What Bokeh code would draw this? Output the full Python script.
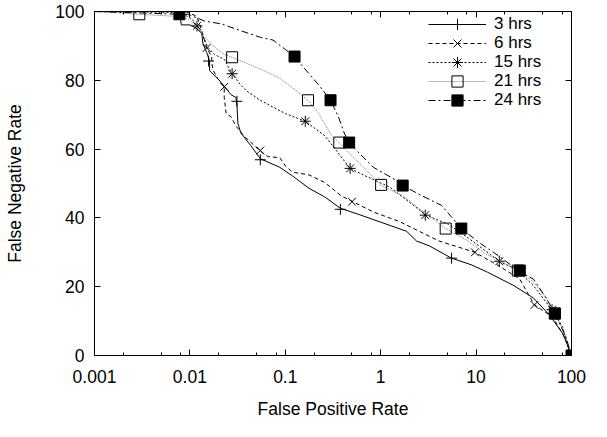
from bokeh.plotting import figure
from bokeh.models import (FixedTicker, LogAxis, LinearAxis, Legend, LegendItem,
                          CustomJSTickFormatter, Range1d)
from bokeh.embed import file_html
from bokeh.resources import INLINE

# ---- axis ticks ----
x_ticks = [0.001, 0.01, 0.1, 1, 10, 100]
x_tick_labels = ["0.001", "0.01", "0.1", "1", "10", "100"]
x_minor_ticks = [0.002, 0.005, 0.008, 0.02, 0.05, 0.08, 0.2, 0.5, 0.8,
                 2, 5, 8, 20, 50, 80]
y_ticks = [0, 20, 40, 60, 80, 100]
y_tick_labels = ["0", "20", "40", "60", "80", "100"]

series_names = ["3 hrs", "6 hrs", "15 hrs", "21 hrs", "24 hrs"]

# ---- curves (false positive rate, false negative rate) ----
s3_x = [0.001, 0.00706, 0.00794, 0.00813, 0.01005, 0.01185, 0.01333, 0.01365, 0.01499, 0.01609,
        0.01609, 0.01943, 0.0229, 0.02701, 0.03038, 0.03111, 0.03185, 0.03418, 0.04325, 0.05473,
        0.08765, 0.119, 0.1776, 0.2589, 0.3773, 0.5763, 1.254, 1.871, 2.367, 3.216,
        5.525, 8.848, 13.2, 24.93, 39.93, 58.2, 80.91, 100]
s3_y = [100, 100, 98.1, 96.1, 96.1, 95.0, 93.6, 90.8, 88.1, 85.6,
        82.8, 80.6, 78.3, 75.8, 75.0, 73.1, 67.5, 64.7, 61.1, 57.2,
        54.7, 52.2, 48.6, 46.1, 42.8, 41.1, 37.8, 36.1, 33.3, 31.9,
        28.3, 26.4, 24.2, 20.3, 16.7, 11.9, 6.4, 0]

s6_x = [0.001, 0.00893, 0.01185, 0.01333, 0.01499, 0.01687, 0.01727, 0.01943, 0.0229, 0.0229,
        0.02401, 0.02701, 0.03038, 0.03668, 0.05473, 0.06607, 0.08765, 0.1009, 0.119, 0.1776,
        0.2589, 0.3862, 0.5123, 0.8403, 1.586, 4.068, 9.72, 17.93, 28.71, 40.88,
        63.93, 86.82, 100]
s6_y = [100, 100, 98.6, 94.4, 89.4, 86.9, 83.3, 80.6, 78.1, 75.0,
        70.3, 69.4, 66.7, 63.9, 59.4, 57.8, 57.5, 55.0, 53.3, 52.5,
        50.3, 46.4, 44.7, 41.7, 38.9, 33.3, 30.0, 25.8, 22.2, 14.7,
        11.1, 4.7, 0]

s15_x = [0.001, 0.00794, 0.01053, 0.01185, 0.01333, 0.01535, 0.01809, 0.0229, 0.02765, 0.03418,
         0.03937, 0.05473, 0.07432, 0.1009, 0.1617, 0.2589, 0.3276, 0.4775, 0.7295, 1.254,
         2.996, 5.148, 8.247, 17.93, 26.76, 39.93, 62.44, 80.91, 93.18, 100]
s15_y = [100, 99.7, 97.8, 95.8, 93.6, 89.7, 87.5, 86.1, 81.9, 78.6,
         76.9, 74.2, 72.2, 70.3, 68.1, 63.9, 60.3, 54.4, 51.9, 48.9,
         40.8, 38.1, 34.2, 27.2, 25.0, 20.3, 13.3, 8.3, 1.9, 0]

s21_x = [0.001, 0.00295, 0.00706, 0.00959, 0.01213, 0.0143, 0.01809, 0.0229, 0.02765, 0.03668,
         0.05473, 0.08765, 0.119, 0.1735, 0.2247, 0.3052, 0.3686, 0.4889, 0.6639, 1.014,
         1.702, 4.797, 8.247, 12.3, 28.04, 39.93, 54.24, 67.01, 86.82, 100]
s21_y = [100, 99.2, 98.6, 97.8, 95.3, 92.5, 89.7, 87.5, 86.7, 85.3,
         83.3, 80.6, 77.8, 74.2, 70.3, 63.9, 61.9, 58.3, 54.7, 49.4,
         46.4, 36.9, 33.3, 29.7, 24.7, 21.4, 16.7, 12.2, 5.6, 0]

s24_x = [0.001, 0.00776, 0.00959, 0.0143, 0.02134, 0.03418, 0.05473, 0.07432, 0.1009, 0.1248,
         0.1506, 0.2247, 0.2981, 0.36, 0.4145, 0.4664, 0.5763, 0.8403, 1.478, 1.702,
         2.726, 4.367, 6.993, 11.2, 17.93, 28.71, 39.93, 54.24, 67.01, 86.82, 100]
s24_y = [100, 99.2, 99.2, 97.2, 96.4, 94.4, 92.5, 91.7, 88.9, 86.9,
         84.2, 78.6, 74.2, 69.4, 64.7, 61.9, 59.2, 54.7, 50.8, 49.4,
         46.4, 43.6, 36.9, 32.5, 28.6, 24.4, 22.2, 16.7, 12.2, 5.6, 0]

# ---- point markers along each curve ----
m3_x = [0.0157, 0.0311, 0.0547, 0.378, 5.53]
m3_y = [85.6, 73.9, 56.9, 42.5, 28.3]
m6_x = [0.0150, 0.0229, 0.0547, 0.500, 9.72, 40.9]
m6_y = [89.4, 78.1, 59.6, 44.7, 30.0, 14.7]
m15_x = [0.01187, 0.0277, 0.162, 0.478, 2.93, 17.5, 62.5]
m15_y = [95.8, 81.9, 68.1, 54.4, 40.8, 27.4, 13.3]
m21_x = [0.00295, 0.0277, 0.173, 0.368, 1.01, 4.80, 27.4, 67.0]
m21_y = [99.2, 86.7, 74.2, 61.9, 49.6, 36.9, 24.7, 12.2]
m24_x = [0.00776, 0.125, 0.298, 0.467, 1.70, 7.0, 28.7, 67.0, 100]
m24_y = [99.2, 86.9, 74.2, 61.9, 49.4, 36.9, 24.7, 12.2, 0]

FONT = "Liberation Sans"
FS = "17.5px"
LFS = "17px"

p = figure(width=591, height=421, x_axis_type="log",
           x_range=Range1d(0.001, 100), y_range=Range1d(0, 100),
           output_backend="svg", toolbar_location=None,
           min_border_left=94, min_border_right=20, min_border_top=11, min_border_bottom=65)
p.background_fill_color = "white"
p.border_fill_color = "white"
p.outline_line_color = "black"
p.outline_line_width = 1
p.xgrid.grid_line_color = None
p.ygrid.grid_line_color = None

xfmt = CustomJSTickFormatter(args=dict(vals=x_ticks, labs=x_tick_labels), code="""
const i = vals.findIndex(v => Math.abs(Math.log10(v) - Math.log10(tick)) < 1e-6);
return i >= 0 ? labs[i] : "";
""")
yfmt = CustomJSTickFormatter(args=dict(vals=y_ticks, labs=y_tick_labels), code="""
const i = vals.findIndex(v => Math.abs(v - tick) < 1e-6);
return i >= 0 ? labs[i] : "";
""")
blank = CustomJSTickFormatter(code="return '';")

xa = p.xaxis[0]
xa.ticker = FixedTicker(ticks=x_ticks, minor_ticks=x_minor_ticks)
xa.formatter = xfmt
xa.axis_label = "False Positive Rate"
ya = p.yaxis[0]
ya.ticker = FixedTicker(ticks=y_ticks)
ya.formatter = yfmt
ya.axis_label = "False Negative Rate"

for ax in (xa, ya):
    ax.axis_line_color = "black"
    ax.major_tick_in = 6
    ax.major_tick_out = 0
    ax.minor_tick_in = 3
    ax.minor_tick_out = 0
    ax.major_tick_line_color = "black"
    ax.minor_tick_line_color = "black"
    ax.major_label_text_font = FONT
    ax.major_label_text_font_size = FS
    ax.major_label_text_color = "black"
    ax.axis_label_text_font = FONT
    ax.axis_label_text_font_size = FS
    ax.axis_label_text_font_style = "normal"
    ax.axis_label_text_color = "black"
ya.minor_tick_line_color = None
xa.major_label_standoff = 14
xa.axis_label_standoff = 13
ya.major_label_standoff = 10
ya.axis_label_standoff = 27

top = LogAxis(ticker=FixedTicker(ticks=x_ticks, minor_ticks=x_minor_ticks), formatter=blank,
              major_tick_in=6, major_tick_out=0, minor_tick_in=3, minor_tick_out=0,
              axis_line_color=None, major_label_standoff=0, major_label_text_font_size="0px")
right = LinearAxis(ticker=FixedTicker(ticks=y_ticks), formatter=blank,
                   major_tick_in=6, major_tick_out=0, minor_tick_line_color=None,
                   axis_line_color=None, major_label_standoff=0, major_label_text_font_size="0px")
p.add_layout(top, "above")
p.add_layout(right, "right")

curves = [
    (s3_x, s3_y, m3_x, m3_y, "solid", "black", "cross", None),
    (s6_x, s6_y, m6_x, m6_y, "4 3", "black", "x", None),
    (s15_x, s15_y, m15_x, m15_y, "2 2", "black", "asterisk", None),
    (s21_x, s21_y, m21_x, m21_y, "1 1", "#7a7a7a", "square", None),
    (s24_x, s24_y, m24_x, m24_y, "7 3 2 3", "black", "square", "black"),
]

# one legend per row so rows can sit closer than the glyph box height
row_bottoms = [317, 298, 279, 260, 241]
for name, (cx, cy, mx, my, dash, color, marker, fill), vy in zip(series_names, curves, row_bottoms):
    rl = p.line(cx, cy, line_color=color, line_dash=dash, line_width=1)
    rp = p.scatter(mx, my, marker=marker, size=11, line_color="black", line_width=1,
                   fill_color=fill)
    lg = Legend(items=[LegendItem(label=name, renderers=[rl, rp])], location=(334, vy),
                glyph_width=58, glyph_height=28, label_height=28, spacing=0, padding=0,
                margin=0, label_standoff=8, border_line_color=None, background_fill_alpha=0,
                label_text_font=FONT, label_text_font_size=LFS, label_text_color="black")
    p.add_layout(lg)

open("out.html", "w").write(file_html(p, INLINE))
